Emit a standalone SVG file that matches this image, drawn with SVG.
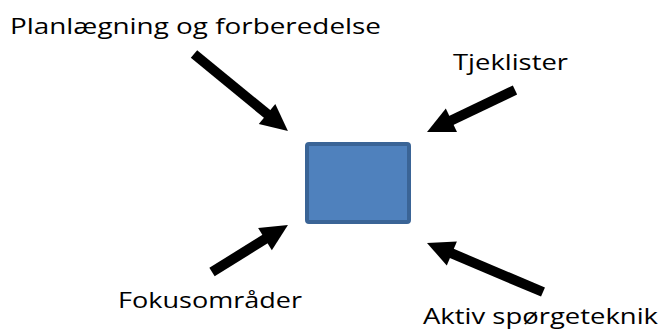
<svg xmlns="http://www.w3.org/2000/svg" width="667" height="334" viewBox="0 0 667 334">
  <style>
    .lbl { font-family: "Open Sans", "Liberation Sans", sans-serif; font-size: 22px; fill: #000; }
    .arrow { stroke: #000; stroke-width: 10; stroke-linecap: butt; fill: none; marker-end: url(#head); }
  </style>
  <defs>
    <marker id="head" markerUnits="strokeWidth" markerWidth="2.7" markerHeight="2.6" refX="0.2" refY="1.3" orient="auto" overflow="visible">
      <path d="M0,0 L2.7,1.3 L0,2.6 z" fill="#000"/>
    </marker>
  </defs>
  <rect width="667" height="334" fill="#fff"/>

  <g id="center-box">
    <rect x="307" y="144" width="102" height="78" rx="2" fill="#4f81bd" stroke="#3a6496" stroke-width="4"/>
  </g>

  <g id="connectors">
    <line class="arrow" x1="194" y1="54" x2="268.6" y2="115.2"/>
    <line class="arrow" x1="515" y1="90" x2="449.6" y2="121.2"/>
    <line class="arrow" x1="212" y1="272" x2="266.7" y2="238.1"/>
    <line class="arrow" x1="543" y1="292" x2="450" y2="252.7"/>
  </g>

  <g id="label-planning">
    <text class="lbl" x="10" y="34" textLength="371" lengthAdjust="spacingAndGlyphs">Planlægning og forberedelse</text>
  </g>
  <g id="label-checklists">
    <text class="lbl" x="453" y="70" textLength="115" lengthAdjust="spacingAndGlyphs">Tjeklister</text>
  </g>
  <g id="label-focus">
    <text class="lbl" x="118" y="308" textLength="184" lengthAdjust="spacingAndGlyphs">Fokusområder</text>
  </g>
  <g id="label-questioning">
    <text class="lbl" x="423" y="324" textLength="235" lengthAdjust="spacingAndGlyphs">Aktiv spørgeteknik</text>
  </g>
</svg>
